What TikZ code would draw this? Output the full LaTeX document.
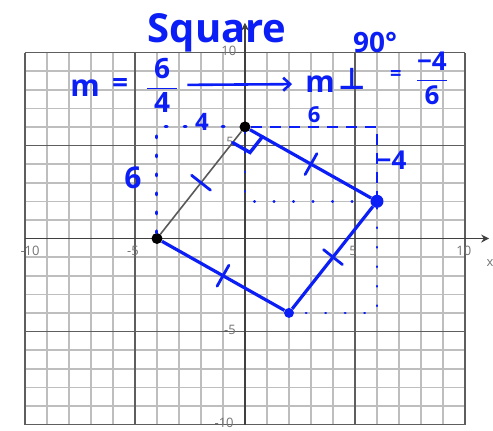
\documentclass[tikz,border=0pt]{standalone}
\usepackage{amsmath}
\usepackage{fontspec}
\setmainfont{Open Sans}
\newfontfamily\symfont{DejaVu Sans}
\usetikzlibrary{arrows.meta,calc}
\definecolor{inkblue}{HTML}{0A1EF5}
\definecolor{gridlight}{HTML}{BEBEBE}
\definecolor{gridmajor}{HTML}{5E5E5E}

\begin{document}
\begin{tikzpicture}[
  x=22pt,y=18.6pt,
  >=Stealth,
  minorline/.style={draw=gridlight,line width=1.6pt},
  majorline/.style={draw=gridmajor,line width=1.8pt},
  axisline/.style={draw=black!75,line width=1.8pt,-{Stealth[length=8pt,width=8pt]}},
  ticklabel/.style={text=black!55,font=\fontsize{13}{15}\selectfont,inner sep=0pt},
  blackdot/.style={circle,fill=black,inner sep=0pt,minimum size=11pt},
  bluedot/.style={circle,fill=inkblue,inner sep=0pt,minimum size=10pt},
  side/.style={draw=inkblue,line width=3.2pt},
  thinside/.style={draw=black!65,line width=1.6pt},
  dotline/.style={draw=inkblue,line width=3pt,line cap=round,
                  dash pattern=on 2pt off 17pt},
  smalldot/.style={draw=inkblue,line width=2.6pt,line cap=round,
                   dash pattern=on 0.5pt off 19pt},
  dashline/.style={draw=inkblue,line width=2.8pt,dash pattern=on 11pt off 8pt},
  hashmark/.style={draw=inkblue,line width=2.8pt,line cap=round},
  hand/.style={text=inkblue,inner sep=1pt},
  arr/.style={draw=inkblue,line width=2.6pt,
              -{Straight Barb[length=7pt,width=13pt]}}
]
\useasboundingbox (-11.136,-10.296) rectangle (11.273,12.823);

% grid and axes
\foreach \i in {-10,...,10} {
  \draw[minorline] (\i,-10) -- (\i,10);
  \draw[minorline] (-10,\i) -- (10,\i);
}
\foreach \i in {-10,-5,5,10} {
  \draw[majorline] (\i,-10) -- (\i,10);
  \draw[majorline] (-10,\i) -- (10,\i);
}
\draw[axisline] (-10,0) -- (11.1,0);
\draw[axisline] (0,-10) -- (0,11.6);

\node[ticklabel] (xmten) at (-9.77,-0.67) {-10};
\node[ticklabel] (xmfive) at (-5.09,-0.67) {-5};
\node[ticklabel] (xfive) at (4.91,-0.67) {5};
\node[ticklabel] (xten) at (9.95,-0.67) {10};
\node[ticklabel] (yten) at (-0.73,10.08) {10};
\node[ticklabel] (yfive) at (-0.68,5.2) {5};
\node[ticklabel] (ymfive) at (-0.68,-4.92) {-5};
\node[ticklabel] (ymten) at (-0.95,-9.9) {-10};
\node[ticklabel] (xname) at (11.14,-1.32) {x};

% vertices of the square
\node[blackdot] (A) at (-4,0) {};
\node[blackdot] (B) at (0,6) {};
\node[bluedot,minimum size=13pt] (C) at (6,2) {};
\node[bluedot] (D) at (2,-4) {};
\coordinate (TL) at (-4,6);
\coordinate (TR) at (6,6);
\coordinate (IN) at (0,2);
\coordinate (BR) at (6,-4);

\draw[thinside] (A) -- (B);
\draw[side] (B) -- (C) -- (D) -- (A);
\draw[dotline] (A) -- (TL) -- (B);
\draw[dashline] (B) -- (TR) -- (C);
\draw[smalldot] (B) -- (IN) -- (C);
\draw[smalldot] (C) -- (BR) -- (D);

% equal sides and right angle
\foreach \p/\q in {A/B,B/C,C/D,D/A} {
  \coordinate (mid) at ($(\p)!0.5!(\q)$);
  \draw[hashmark] ($(mid)!12pt!90:(\q)$) -- ($(mid)!12pt!-90:(\q)$);
}
\coordinate (raone) at ($(B)!20pt!(A)$);
\coordinate (ratwo) at ($(B)!20pt!(C)$);
\draw[hashmark,line width=3.4pt] (raone) -- ($(raone)+(ratwo)-(B)$) -- (ratwo);

% handwriting
\node[hand,font=\fontsize{40}{44}\selectfont\bfseries,anchor=base] (title)
  at (-1.27,10.56) {Square};
\node[hand,font=\fontsize{30}{34}\selectfont\bfseries] (mone) at (-7.27,8.09) {m};
\node[hand,font=\fontsize{28}{32}\selectfont\bfseries] (eqone) at (-5.68,8.2) {=};
\node[hand,font=\fontsize{28}{32}\selectfont\bfseries] (fracone) at (-3.77,8.25)
  {$\dfrac{\;\text{6}\;}{\;\text{4}\;}$};
\node[hand,font=\fontsize{30}{34}\selectfont\bfseries] (mtwo) at (3.41,8.31) {m};
\node[hand,font=\fontsize{30}{34}\selectfont\symfont\bfseries] (perp)
  at (4.86,8.6) {⊥};
\node[hand,font=\fontsize{20}{24}\selectfont\bfseries] (eqtwo) at (6.86,8.79) {=};
\node[hand,font=\fontsize{26}{30}\selectfont\bfseries] (fractwo) at (8.5,8.63)
  {$\dfrac{\text{−4}}{\;\text{6}\;}$};
\node[hand,font=\fontsize{28}{32}\selectfont\bfseries] (angle) at (5.91,10.56) {90°};
\node[hand,font=\fontsize{24}{28}\selectfont\bfseries] (topleft) at (-1.95,6.26) {4};
\node[hand,font=\fontsize{22}{26}\selectfont\bfseries] (topright) at (3.14,6.64) {6};
\node[hand,font=\fontsize{30}{34}\selectfont\bfseries] (leftside) at (-5.09,3.25) {6};
\node[hand,font=\fontsize{26}{30}\selectfont\bfseries] (rightside) at (6.66,4.22) {−4};

\draw[arr,shorten <=8pt,shorten >=12pt] (fracone) -- (mtwo);
\end{tikzpicture}
\end{document}
